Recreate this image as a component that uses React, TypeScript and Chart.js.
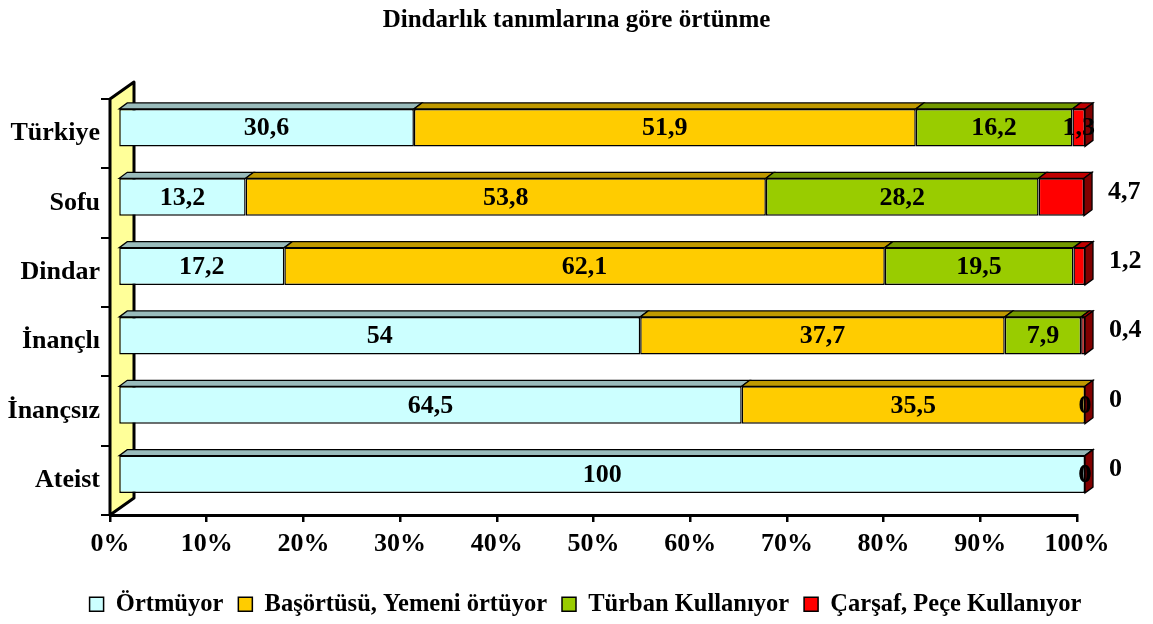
import React, { useEffect, useRef } from 'react';
import { Chart, registerables } from 'chart.js';

Chart.register(...registerables);

// ---------- data ----------
const chartTitle = 'Dindarlık tanımlarına göre örtünme';
const categories = ['Türkiye', 'Sofu', 'Dindar', 'İnançlı', 'İnançsız', 'Ateist'];
const seriesNames = ['Örtmüyor', 'Başörtüsü, Yemeni örtüyor', 'Türban Kullanıyor', 'Çarşaf, Peçe Kullanıyor'];
const ortmuyor = [30.6, 13.2, 17.2, 54, 64.5, 100];
const basortusu = [51.9, 53.8, 62.1, 37.7, 35.5, 0];
const turban = [16.2, 28.2, 19.5, 7.9, 0, 0];
const carsaf = [1.3, 4.7, 1.2, 0.4, 0, 0];
const xTickValues = [0, 10, 20, 30, 40, 50, 60, 70, 80, 90, 100];

// ---------- style ----------
const frontColors = ['#CCFFFF', '#FFCC00', '#99CC00', '#FF0000'];
const topColors = ['#99BBBB', '#BF9900', '#739900', '#BF0000'];
const sideColor = '#800000';
const wallColor = '#FFFF99';
// last-series labels placed to the right of the bar (style choice, per row)
const lastLabelOutside = [false, true, true, true, true, true];

const OX = 8, OY = -6;       // front-face shift
const DX = 8, DY = -6;       // bar depth
const WX = 24, WY = -17;     // wall depth
const LEGEND_SHIFT = 9;
const FONT = '"Liberation Serif", "Times New Roman", serif';

Chart.defaults.font.family = FONT;
Chart.defaults.color = '#000';

const fmt = (v: number) => String(v).replace('.', ',');

const threeD = {
  id: 'threeD',
  afterLayout(chart: any) {
    if (chart.legend) {
      chart.legend.left += LEGEND_SHIFT;
      chart.legend.right += LEGEND_SHIFT;
    }
  },
  beforeDatasetsDraw(chart: any) {
    const { ctx, chartArea: a } = chart;
    ctx.save();
    ctx.beginPath();
    ctx.moveTo(a.left, a.top);
    ctx.lineTo(a.left + WX, a.top + WY);
    ctx.lineTo(a.left + WX, a.bottom + WY);
    ctx.lineTo(a.left, a.bottom);
    ctx.closePath();
    ctx.fillStyle = wallColor;
    ctx.fill();
    ctx.lineWidth = 3;
    ctx.lineJoin = 'round';
    ctx.strokeStyle = '#000';
    ctx.stroke();
    ctx.restore();
    ctx.save();
    ctx.translate(OX, OY);
  },
  afterDatasetsDraw(chart: any) {
    const { ctx } = chart;
    ctx.restore();
    ctx.save();
    ctx.lineWidth = 1.3;
    ctx.strokeStyle = '#000';
    ctx.lineJoin = 'miter';
    const nd = chart.data.datasets.length;
    for (let di = 0; di < nd; di++) {
      const meta = chart.getDatasetMeta(di);
      meta.data.forEach((el: any) => {
        const p = el.getProps(['x', 'base', 'y', 'height'], true);
        const x0 = Math.min(p.x, p.base) + OX;
        const x1 = Math.max(p.x, p.base) + OX;
        const yT = p.y - p.height / 2 + OY;
        const yB = p.y + p.height / 2 + OY;
        if (x1 - x0 > 0.3) {
          ctx.beginPath();
          ctx.moveTo(x0, yT);
          ctx.lineTo(x1, yT);
          ctx.lineTo(x1 + DX, yT + DY);
          ctx.lineTo(x0 + DX, yT + DY);
          ctx.closePath();
          ctx.fillStyle = topColors[di];
          ctx.fill();
          ctx.stroke();
        }
        if (di === nd - 1) {
          ctx.beginPath();
          ctx.moveTo(x1, yT);
          ctx.lineTo(x1 + DX, yT + DY);
          ctx.lineTo(x1 + DX, yB + DY);
          ctx.lineTo(x1, yB);
          ctx.closePath();
          ctx.fillStyle = sideColor;
          ctx.fill();
          ctx.stroke();
        }
      });
    }
    // data labels
    ctx.fillStyle = '#000';
    ctx.font = `bold 26px ${FONT}`;
    ctx.textBaseline = 'middle';
    for (let di = 0; di < nd; di++) {
      const meta = chart.getDatasetMeta(di);
      const data = chart.data.datasets[di].data;
      meta.data.forEach((el: any, i: number) => {
        const p = el.getProps(['x', 'base', 'y'], true);
        const v = data[i] as number;
        if (di === nd - 1 && lastLabelOutside[i]) {
          ctx.textAlign = 'left';
          ctx.fillText(fmt(v), Math.max(p.x, p.base) + OX + 24, p.y + OY - 5);
        } else {
          ctx.textAlign = 'center';
          ctx.fillText(fmt(v), (p.x + p.base) / 2 + OX, p.y + OY + 1);
        }
      });
    }
    ctx.restore();
  },
};

export default function App() {
  const ref = useRef<HTMLCanvasElement>(null);
  useEffect(() => {
    const series = [ortmuyor, basortusu, turban, carsaf];
    const chart = new Chart(ref.current as HTMLCanvasElement, {
      type: 'bar',
      data: {
        labels: categories,
        datasets: series.map((d, k) => ({
          label: seriesNames[k],
          data: d,
          backgroundColor: frontColors[k],
          borderColor: '#000',
          borderWidth: 1.5,
          borderSkipped: false,
          barPercentage: 0.54,
          categoryPercentage: 1,
          xAxisID: 'x',
          yAxisID: 'y',
          clip: false as any,
        })),
      },
      options: {
        indexAxis: 'y',
        animation: false,
        responsive: false,
        devicePixelRatio: 1,
        layout: { padding: { left: 0, right: 0, top: 0, bottom: 0 } },
        plugins: {
          title: {
            display: true,
            text: chartTitle,
            color: '#000',
            font: { size: 25, weight: 'bold' },
            padding: { top: 6, bottom: 63 },
          },
          legend: {
            display: true,
            position: 'bottom',
            maxHeight: 47,
            labels: {
              boxWidth: 14,
              boxHeight: 14,
              padding: 15,
              color: '#000',
              font: { size: 24.5, weight: 'bold' },
            },
          },
          tooltip: { enabled: false },
        },
        scales: {
          x: {
            type: 'linear',
            stacked: true,
            min: 0,
            max: 100,
            afterBuildTicks: (s: any) => {
              s.ticks = xTickValues.map((v) => ({ value: v }));
            },
            ticks: {
              callback: (v: any) => `${v}%`,
              font: { size: 26, weight: 'bold' },
              color: '#000',
              padding: 7,
              maxRotation: 0,
            },
            grid: { drawOnChartArea: false, tickLength: 7, lineWidth: 2.5, color: '#000' },
            border: { display: true, width: 3, color: '#000' },
            afterFit: (s: any) => { s.height = 62; },
          },
          y: {
            type: 'category',
            stacked: true,
            position: 'left',
            ticks: {
              font: { size: 26, weight: 'bold' },
              color: '#000',
              padding: 1,
            },
            grid: { offset: true, drawOnChartArea: false, tickLength: 9, lineWidth: 2, color: '#000' },
            border: { display: true, width: 3, color: '#000' },
            afterFit: (s: any) => { s.width = 110; },
          },
          yR: {
            type: 'linear',
            position: 'right',
            display: true,
            ticks: { display: false },
            grid: { display: false },
            border: { display: false },
            afterFit: (s: any) => { s.width = 76; },
          },
        },
      } as any,
      plugins: [threeD],
    });
    return () => chart.destroy();
  }, []);
  return (
    <div style={{ position: 'absolute', left: 0, top: 0, width: 1153, height: 624, background: '#fff' }}>
      <canvas ref={ref} width={1153} height={624} style={{ display: 'block', width: 1153, height: 624 }} />
    </div>
  );
}
